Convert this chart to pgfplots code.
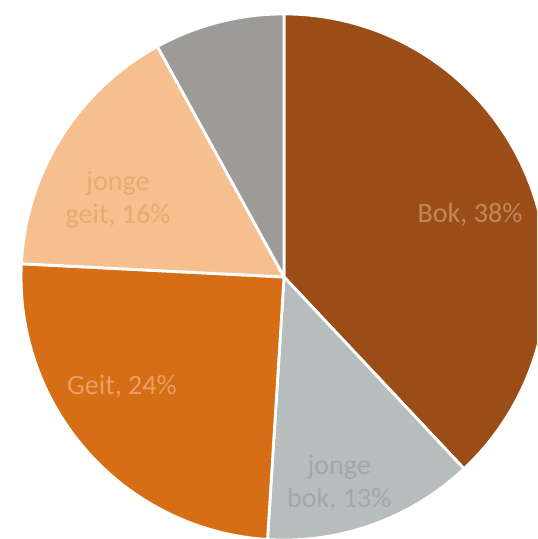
\documentclass[border=0pt]{standalone}
\usepackage{pgfplots}
\pgfplotsset{compat=1.18}
\usepackage{fontspec}
\setmainfont{Carlito}
\definecolor{cBok}{HTML}{9B4D17}
\definecolor{cJB}{HTML}{B6BDBC}
\definecolor{cGeit}{HTML}{D56E15}
\definecolor{cJG}{HTML}{F5C08E}
\definecolor{cGray}{HTML}{9D9B98}
\definecolor{tBok}{HTML}{C4875A}
\definecolor{tJB}{HTML}{A2A8A7}
\definecolor{tGeit}{HTML}{E9A064}
\definecolor{tJG}{HTML}{E6AA78}
\begin{document}
\begin{tikzpicture}
\path[use as bounding box] (0,0) rectangle (10.74cm,10.78cm);
\clip (0,0) rectangle (10.74cm,10.78cm);
\begin{axis}[
  at={(0,0)}, anchor=south west,
  width=10.74cm, height=10.78cm, scale only axis,
  xmin=-1.080, xmax=0.962, ymin=-0.996, ymax=1.053,
  hide axis, clip=false,
]
\xdef\cum{0}
\foreach \p/\c in {38/cBok,13/cJB,24.8/cGeit,16.2/cJG,8/cGray}{
  \pgfmathsetmacro\a{90-3.6*\cum}
  \pgfmathsetmacro\b{90-3.6*(\cum+\p)}
  \edef\tmp{\noexpand\addplot[fill=\c, draw=white, line width=1.6pt, line join=round, domain=\b:\a, samples=120, variable=\noexpand\t] ({cos(\noexpand\t)},{sin(\noexpand\t)}) -- (axis cs:0,0) -- cycle;}
  \tmp
  \pgfmathsetmacro\newcum{\cum+\p}
  \xdef\cum{\newcum}
}
\draw[white, line width=1.6pt] (axis cs:0,0) -- (axis cs:0,1.05);
\node[text=tBok, font=\fontsize{16}{19}\selectfont, align=center] at (axis cs:0.707,0.236) {Bok, 38\%};
\node[text=tJB, font=\fontsize{16}{19}\selectfont, align=center] at (axis cs:0.21,-0.783) {jonge\\bok, 13\%};
\node[text=tGeit, font=\fontsize{16}{19}\selectfont, align=center] at (axis cs:-0.616,-0.418) {Geit, 24\%};
\node[text=tJG, font=\fontsize{16}{19}\selectfont, align=center] at (axis cs:-0.631,0.293) {jonge\\geit, 16\%};
\end{axis}
\end{tikzpicture}
\end{document}
